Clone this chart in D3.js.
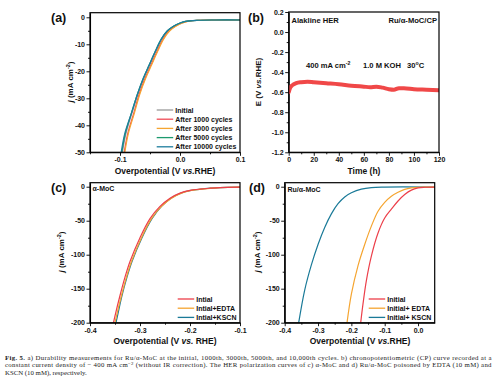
<!DOCTYPE html>
<html><head><meta charset="utf-8">
<script src="https://cdn.jsdelivr.net/npm/d3@7/dist/d3.min.js"></script>
<style>
body{margin:0;background:#fff;}
svg{display:block;}
.ax text{font-family:"Liberation Sans",Arial,sans-serif;font-weight:bold;font-size:7px;fill:#111;}
.ax path{stroke:#000;stroke-width:1.1;}
.ax line{stroke:#000;stroke-width:0.9;}
.t{font-family:"Liberation Sans",Arial,sans-serif;font-weight:bold;fill:#111;}
.cap{font-family:"Liberation Serif","Times New Roman",serif;font-size:6.8px;fill:#222;}
</style></head>
<body><svg id="c" width="496" height="383"></svg>
<script>
// ---------- DATA ----------
// (a) durability LSV: shared current values (mA cm^-2), overpotential (V) per series
const aJ = [-1.0,-1.0,-1.1,-1.5,-2.2,-3.3,-5,-8,-12.5,-17.5,-22.5,-28.5,-35.5,-43,-50];
const aInitial = [0.1,0.06,0.03,0.01,0.0,-0.01,-0.02,-0.03,-0.04,-0.05,-0.06,-0.07,-0.08,-0.09,-0.096];
const a1000  = [0.1,0.06,0.03,0.012,0.002,-0.008,-0.018,-0.028,-0.038,-0.048,-0.058,-0.068,-0.077,-0.087,-0.093];
const a3000  = [0.1,0.06,0.03,0.013,0.003,-0.007,-0.017,-0.027,-0.037,-0.047,-0.057,-0.067,-0.076,-0.086,-0.092];
const a5000  = [0.1,0.06,0.03,0.009,-0.001,-0.011,-0.021,-0.031,-0.041,-0.051,-0.061,-0.071,-0.081,-0.091,-0.097];
const a10000 = [0.1,0.06,0.03,0.009,-0.001,-0.011,-0.021,-0.031,-0.041,-0.051,-0.061,-0.071,-0.081,-0.092,-0.098];
const aLabels = ["Initial","After 1000 cycles","After 3000 cycles","After 5000 cycles","After 10000 cycles"];
const aColors = ["#9a9a9a","#ef4a55","#f5a531","#1c9a6e","#1d7d9e"];

// (b) chronopotentiometry
const bTime = [0,1,3,6,10,15,20,30,40,50,60,65,70,75,80,84,88,92,100,110,120];
const bE = [-0.60,-0.56,-0.53,-0.51,-0.50,-0.495,-0.50,-0.51,-0.52,-0.535,-0.545,-0.55,-0.545,-0.555,-0.57,-0.575,-0.56,-0.56,-0.57,-0.575,-0.58];

// (c) alpha-MoC poisoning
const cJ = [-0.5,-1.2,-2.2,-3.5,-5.5,-9.5,-17,-29,-47,-75,-110,-133,-160,-190,-200];
const cInitial = [-0.10,-0.14,-0.16,-0.18,-0.20,-0.22,-0.24,-0.26,-0.28,-0.30,-0.32,-0.33,-0.34,-0.35,-0.353];
const cEDTA    = [-0.10,-0.14,-0.158,-0.177,-0.197,-0.217,-0.237,-0.257,-0.277,-0.297,-0.317,-0.327,-0.337,-0.347,-0.350];
const cKSCN    = [-0.10,-0.14,-0.159,-0.178,-0.198,-0.218,-0.238,-0.257,-0.276,-0.296,-0.316,-0.326,-0.336,-0.345,-0.348];
const cLabels = ["Intial","Intial+EDTA","Intial+KSCN"];

// (d) Ru/alpha-MoC poisoning
const dInitialV = [0.05,0.02,0.0,-0.02,-0.04,-0.06,-0.08,-0.10,-0.12,-0.14,-0.155,-0.165,-0.172];
const dInitialJ = [-0.5,-0.8,-1.8,-5,-11.5,-21,-33,-46,-68,-102,-138,-172,-200];
const dEDTAV = [0.05,0.02,0.0,-0.02,-0.04,-0.06,-0.08,-0.10,-0.12,-0.14,-0.16,-0.18,-0.20,-0.213];
const dEDTAJ = [-0.5,-0.6,-0.9,-1.8,-4,-8.2,-14,-23,-36,-58,-85,-116,-158,-200];
const dKSCNV = [0.05,-0.10,-0.14,-0.17,-0.20,-0.22,-0.24,-0.26,-0.28,-0.30,-0.32,-0.34,-0.358];
const dKSCNJ = [-0.5,-0.5,-1.2,-3.5,-9,-15,-25,-40,-60,-85,-115,-152,-200];
const dLabels = ["Initial","Initial+ EDTA","Initial+ KSCN"];
const cdColors = ["#ec3f4a","#f5a531","#1a7a98"];

// ticks
const aXTicks=[-0.1,0.0,0.1], aYTicks=[0,-10,-20,-30,-40,-50];
const bXTicks=[0,20,40,60,80,100,120], bYTicks=[0.2,0.0,-0.2,-0.4,-0.6,-0.8,-1.0,-1.2];
const cXTicks=[-0.4,-0.3,-0.2,-0.1], cdYTicks=[0,-50,-100,-150,-200];
const dXTicks=[-0.4,-0.3,-0.2,-0.1,0.0];

// ---------- DRAW ----------
const svg=d3.select("#c");
const fmt1=d=>(Math.abs(d)<1e-9?0:d).toFixed(1);
const fmt0=d=>String(Math.round(d));

function panel(o){
  const x=d3.scaleLinear().domain(o.xd).range([o.l,o.r]);
  const y=d3.scaleLinear().domain(o.yd).range([o.b,o.t]);
  const g=svg.append("g");
  // minor ticks
  g.append("g").attr("class","ax").attr("transform",`translate(0,${o.b})`)
    .call(d3.axisBottom(x).tickValues(o.xm).tickSize(2).tickFormat("")).select(".domain").remove();
  g.append("g").attr("class","ax").attr("transform",`translate(${o.l},0)`)
    .call(d3.axisLeft(y).tickValues(o.ym).tickSize(2).tickFormat("")).select(".domain").remove();
  g.append("g").attr("class","ax").attr("transform",`translate(0,${o.b})`)
    .call(d3.axisBottom(x).tickValues(o.xt).tickSize(3.5).tickSizeOuter(0).tickPadding(1.5).tickFormat(o.xf));
  g.append("g").attr("class","ax").attr("transform",`translate(${o.l},0)`)
    .call(d3.axisLeft(y).tickValues(o.yt).tickSize(3.5).tickSizeOuter(0).tickPadding(1.5).tickFormat(o.yf));
  const clip="clip"+o.id;
  svg.append("clipPath").attr("id",clip).append("rect").attr("x",o.l).attr("y",o.t).attr("width",o.r-o.l).attr("height",o.b-o.t);
  const lg=g.append("g").attr("clip-path",`url(#${clip})`);
  o.series.forEach(s=>{
    const pts=s.v.map((v,i)=>[v,s.j[i]]);
    lg.append("path").datum(pts)
      .attr("d",d3.line().x(d=>x(d[0])).y(d=>y(d[1])).curve(s.curve||d3.curveCatmullRom.alpha(0.5)))
      .attr("fill","none").attr("stroke",s.c).attr("stroke-width",s.w||1.2).attr("stroke-linejoin","round").attr("stroke-linecap","round");
  });
  g.append("rect").attr("x",o.l).attr("y",o.t).attr("width",o.r-o.l).attr("height",o.b-o.t)
    .attr("fill","none").attr("stroke","#000").attr("stroke-width",1.2);
  return {x,y,g};
}
function minors(ticks){const s=ticks[1]-ticks[0];const out=[];for(let i=0;i<ticks.length-1;i++)out.push(ticks[i]+s/2);return out;}

// panel (a)
panel({id:"a",l:90,r:240,t:12.7,b:152.3,xd:[-0.15,0.1],yd:[-50,1.7],xt:aXTicks,yt:aYTicks,
  xm:[-0.15,-0.05,0.05],ym:minors(aYTicks),xf:fmt1,yf:fmt0,
  series:[{v:aInitial,j:aJ,c:aColors[0]},{v:a1000,j:aJ,c:aColors[1]},{v:a3000,j:aJ,c:aColors[2]},{v:a5000,j:aJ,c:aColors[3]},{v:a10000,j:aJ,c:aColors[4]}]});
// panel (b)
const pb=panel({id:"b",l:288.7,r:439,t:12,b:152.3,xd:[0,120],yd:[-1.2,0.2],xt:bXTicks,yt:bYTicks,
  xm:minors(bXTicks),ym:minors(bYTicks),xf:fmt0,yf:fmt1,
  series:[{v:bTime,j:bE,c:"#f04848",w:4,curve:d3.curveMonotoneX}]});
// panel (c)
panel({id:"c",l:90,r:240,t:182.7,b:322.7,xd:[-0.4,-0.1],yd:[-200,5.9],xt:cXTicks,yt:cdYTicks,
  xm:minors(cXTicks),ym:minors(cdYTicks),xf:fmt1,yf:fmt0,
  series:[{v:cKSCN,j:cJ,c:cdColors[2]},{v:cEDTA,j:cJ,c:cdColors[1]},{v:cInitial,j:cJ,c:cdColors[0]}]});
// panel (d)
panel({id:"d",l:284.7,r:434.7,t:182.7,b:322.7,xd:[-0.4,0.05],yd:[-200,5.9],xt:dXTicks,yt:cdYTicks,
  xm:[-0.35,-0.25,-0.15,-0.05],ym:minors(cdYTicks),xf:fmt1,yf:fmt0,
  series:[{v:dKSCNV,j:dKSCNJ,c:cdColors[2]},{v:dEDTAV,j:dEDTAJ,c:cdColors[1]},{v:dInitialV,j:dInitialJ,c:cdColors[0]}]});

// text helpers
function txt(x,y,s,size,anchor){return svg.append("text").attr("class","t").attr("x",x).attr("y",y).attr("font-size",size).attr("text-anchor",anchor||"start").text(s);}
// panel labels
txt(51,21.5,"(a)",12.5); txt(248,21.5,"(b)",12.5); txt(51,191.5,"(c)",12.5); txt(249,191.5,"(d)",12.5);

// y titles
function jTitle(x,y){
  const t=svg.append("text").attr("class","t").attr("font-size",8).attr("text-anchor","middle")
    .attr("transform",`translate(${x},${y}) rotate(-90)`);
  t.append("tspan").attr("font-style","italic").text("j");
  t.append("tspan").text(" (mA cm");
  t.append("tspan").attr("dy",-3).attr("font-size",5.5).text("-2");
  t.append("tspan").attr("dy",3).text(")");
}
jTitle(72.5,82); jTitle(64,252); jTitle(260,252);
{
  const t=svg.append("text").attr("class","t").attr("font-size",8).attr("text-anchor","middle")
    .attr("transform",`translate(261,82) rotate(-90)`);
  t.append("tspan").text("E (V ");
  t.append("tspan").attr("font-style","italic").text("vs.");
  t.append("tspan").text("RHE)");
}
// x titles
function opTitle(x,y,sp){
  const t=svg.append("text").attr("class","t").attr("x",x).attr("y",y).attr("font-size",8.5).attr("text-anchor","middle");
  t.append("tspan").text("Overpotential (V ");
  t.append("tspan").attr("font-style","italic").text("vs.");
  t.append("tspan").text((sp?" ":"")+"RHE)");
}
opTitle(165,174,false); opTitle(165,344,true); opTitle(360,344,false);
txt(364,174,"Time (h)",8.5,"middle");

// legends
function legend(x0,y0,dy,labels,colors){
  labels.forEach((l,i)=>{
    const y=y0+i*dy;
    svg.append("line").attr("x1",x0).attr("x2",x0+16.5).attr("y1",y).attr("y2",y).attr("stroke",colors[i]).attr("stroke-width",1.3);
    txt(x0+18.5,y+2.5,l,7);
  });
}
legend(156.7,110,9.2,aLabels,aColors);
legend(177.7,299,9.2,cLabels,cdColors);
legend(368.7,299,9.2,dLabels,cdColors);

// panel annotations
txt(291.5,22.5,"Alakline HER",7.6);
txt(437,22.5,"Ru/α-MoC/CP",7.6,"end");
{
  const t=svg.append("text").attr("class","t").attr("x",306).attr("y",68).attr("font-size",7.6);
  t.append("tspan").text("400 mA cm");
  t.append("tspan").attr("dy",-3).attr("font-size",5.2).text("-2");
  t.append("tspan").attr("dy",3).attr("x",363).text("1.0 M KOH");
  t.append("tspan").attr("x",407).text("30");
  t.append("tspan").attr("dy",-3).attr("font-size",5.2).text("o");
  t.append("tspan").attr("dy",3).text("C");
}
txt(92.5,190.5,"α-MoC",7);
txt(287.5,191.5,"Ru/α-MoC",7);

// caption
{
  const c1=svg.append("text").attr("class","cap").attr("x",5).attr("y",359.5).attr("textLength",486.5).attr("lengthAdjust","spacing");
  c1.append("tspan").attr("font-weight","bold").text("Fig. 5.");
  c1.append("tspan").text(" a) Durability measurements for Ru/α-MoC at the initial, 1000th, 3000th, 5000th, and 10,000th cycles. b) chronopotentiometric (CP) curve recorded at a");
  const c2=svg.append("text").attr("class","cap").attr("x",5).attr("y",367).attr("textLength",486.5).attr("lengthAdjust","spacing");
  c2.append("tspan").text("constant current density of − 400 mA cm");
  c2.append("tspan").attr("dy",-2.5).attr("font-size",4.8).text("−2");
  c2.append("tspan").attr("dy",2.5).text(" (without IR correction). The HER polarization curves of c) α-MoC and d) Ru/α-MoC poisoned by EDTA (10 mM) and");
  svg.append("text").attr("class","cap").attr("x",5).attr("y",374.5).text("KSCN (10 mM), respectively.");
}
</script></body></html>
